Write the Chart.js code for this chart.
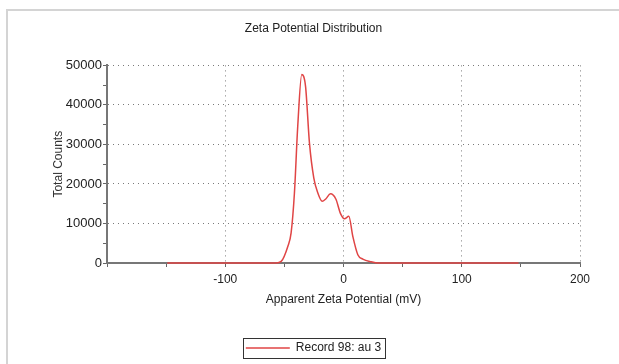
<!DOCTYPE html>
<html>
<head>
<meta charset="utf-8">
<script src="https://cdn.jsdelivr.net/npm/chart.js@4.4.1/dist/chart.umd.min.js"></script>
<style>
  html, body { margin: 0; padding: 0; background: #fff; }
  #wrap { width: 619px; height: 364px; position: relative; }
</style>
</head>
<body>
<div id="wrap"><canvas id="c" width="619" height="364"></canvas></div>
<script>
// Apparent zeta potential (mV)
const zetaPotential = [-149, -60, -57, -52.7, -47.1, -44.3, -41.5, -38.7, -35.3, -32.1, -28.8, -25.1, -21.7, -18, -15, -11, -6.5, -2.5, 0.8, 4.5, 7.9, 12.1, 16.3, 23.4, 30, 148];
// Total counts
const totalCounts = [0, 0, 0, 400, 4200, 7600, 17700, 34600, 47700, 44700, 30400, 21500, 17700, 15600, 16200, 17500, 16200, 12500, 11200, 11800, 6700, 2100, 1000, 300, 0, 0];
const seriesLabel = 'Record 98: au 3';
const chartTitle = 'Zeta Potential Distribution';
const xAxisTitle = 'Apparent Zeta Potential (mV)';
const yAxisTitle = 'Total Counts';

const points = zetaPotential.map((x, i) => ({ x: x, y: totalCounts[i] }));

Chart.defaults.font.family = '"Liberation Sans", Arial, sans-serif';
Chart.defaults.font.size = 12;
Chart.defaults.color = '#222';

const frame = {
  id: 'frame',
  beforeDraw(chart) {
    const ctx = chart.ctx;
    ctx.save();
    ctx.fillStyle = '#fff';
    ctx.fillRect(0, 0, chart.width, chart.height);
    ctx.strokeStyle = '#d4d4d4';
    ctx.lineWidth = 2;
    ctx.beginPath();
    ctx.moveTo(7, 364);
    ctx.lineTo(7, 10);
    ctx.lineTo(619, 10);
    ctx.stroke();
    ctx.restore();
  }
};

const legendBox = {
  id: 'legendBox',
  afterDraw(chart) {
    const hb = chart.legend && chart.legend.legendHitBoxes && chart.legend.legendHitBoxes[0];
    if (!hb) return;
    const ctx = chart.ctx;
    ctx.save();
    ctx.strokeStyle = '#333';
    ctx.lineWidth = 1;
    ctx.strokeRect(Math.round(hb.left - 3) + 0.5, Math.round(hb.top - 4) + 0.5, Math.round(hb.width + 7), 20);
    ctx.restore();
  }
};

new Chart(document.getElementById('c'), {
  type: 'line',
  data: {
    datasets: [{
      label: seriesLabel,
      data: points,
      borderColor: '#e04545',
      backgroundColor: '#e04545',
      borderWidth: 1.5,
      pointRadius: 0,
      cubicInterpolationMode: 'monotone',
      clip: false
    }]
  },
  options: {
    responsive: false,
    animation: false,
    devicePixelRatio: 1,
    layout: { padding: { left: 47, right: 39, top: 0, bottom: 0 } },
    plugins: {
      title: {
        display: true,
        text: chartTitle,
        color: '#222',
        font: { size: 12, weight: 'normal' },
        padding: { top: 21, bottom: 30 }
      },
      legend: {
        display: true,
        position: 'bottom',
        labels: {
          usePointStyle: true,
          pointStyle: 'line',
          pointStyleWidth: 44,
          padding: 31,
          color: '#222',
          font: { size: 12 }
        }
      },
      tooltip: { enabled: false }
    },
    scales: {
      x: {
        type: 'linear',
        min: -200,
        max: 200,
        afterFit(scale) { scale.height = 48; },
        ticks: {
          stepSize: 50,
          autoSkip: false,
          maxRotation: 0,
          padding: 5,
          color: '#222',
          callback: (v) => (v % 100 === 0 && v !== -200) ? String(v) : ''
        },
        grid: {
          color: (ctx) => (ctx.tick && ctx.tick.value % 100 === 0 && ctx.tick.value !== -200) ? '#7a7a7a' : 'rgba(0,0,0,0)',
          lineWidth: 1,
          tickColor: '#666',
          tickLength: 4,
          tickWidth: 1
        },
        border: { display: true, color: '#777', width: 2, dash: [1, 4] },
        title: {
          display: true,
          text: xAxisTitle,
          color: '#222',
          font: { size: 12 },
          padding: { top: 4, bottom: 4 }
        }
      },
      y: {
        min: 0,
        max: 50000,
        afterFit(scale) { scale.width = 60; },
        ticks: {
          stepSize: 5000,
          autoSkip: false,
          padding: 1,
          color: '#222',
          font: { size: 13 },
          callback: (v) => (v % 10000 === 0) ? String(v) : ''
        },
        grid: {
          color: (ctx) => (ctx.tick && ctx.tick.value % 10000 === 0 && ctx.tick.value !== 0) ? '#7a7a7a' : 'rgba(0,0,0,0)',
          lineWidth: 1,
          tickColor: '#666',
          tickLength: 4,
          tickWidth: 1
        },
        border: { display: true, color: '#777', width: 2, dash: [1, 4] },
        title: {
          display: true,
          text: yAxisTitle,
          color: '#333',
          font: { size: 12 },
          padding: { top: 4, bottom: 4 }
        }
      }
    }
  },
  plugins: [frame, legendBox]
});
</script>
</body>
</html>
